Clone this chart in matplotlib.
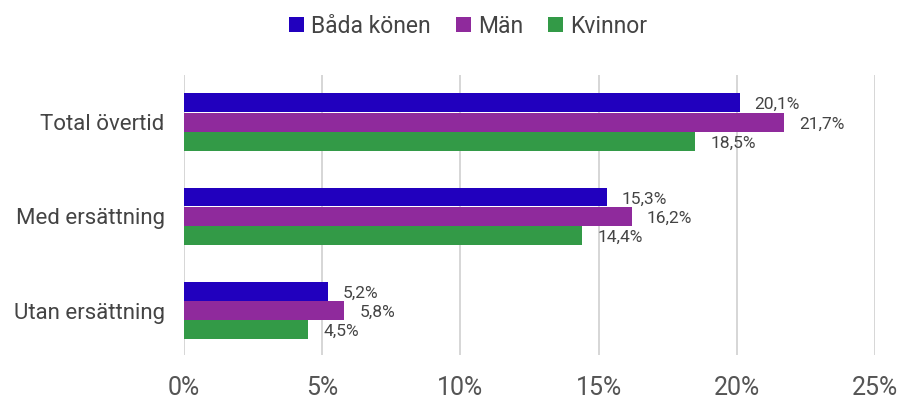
import matplotlib
matplotlib.use("Agg")
import matplotlib.pyplot as plt
import numpy as np

categories = ["Total övertid", "Med ersättning", "Utan ersättning"]
series_names = ["Båda könen", "Män", "Kvinnor"]
bada = [20.1, 15.3, 5.2]
man = [21.7, 16.2, 5.8]
kvinnor = [18.5, 14.4, 4.5]
xticks = [0, 5, 10, 15, 20, 25]
xticklabels = ["0%", "5%", "10%", "15%", "20%", "25%"]

colors = ["#2100BE", "#8F2A9C", "#339A47"]
plt.rcParams['font.family'] = ['Roboto', 'DejaVu Sans']

fig = plt.figure(figsize=(9.02, 4.01), dpi=100)
ax = fig.add_axes([0.204, 0.115, 0.766, 0.698])

y = np.arange(len(categories))
h = 0.2
offsets = [-0.205, 0.0, 0.205]
for vals, off, col, name in zip([bada, man, kvinnor], offsets, colors, series_names):
    bars = ax.barh(y + off, vals, height=h, color=col, label=name, zorder=3)
    for b, v in zip(bars, vals):
        ax.text(v + 0.55, b.get_y() + b.get_height() / 2 + 0.02,
                f"{v:.1f}%".replace(".", ","), va="center", ha="left",
                fontsize=12.5, color="#444444", zorder=4)

ax.set_xlim(0, 25)
ax.set_ylim(2.47, -0.5)
ax.set_yticks(y)
ax.set_yticklabels(categories, fontsize=16, color="#444444")
ax.set_xticks(xticks)
ax.set_xticklabels(xticklabels, fontsize=18, color="#555555")
ax.tick_params(axis="y", length=0, pad=14)
ax.tick_params(axis="x", length=0, pad=15)
ax.grid(axis="x", color="#d0d0d0", linewidth=1.2, zorder=0)
for s in ax.spines.values():
    s.set_visible(False)

fig.legend(loc="upper center", bbox_to_anchor=(0.519, 1.015), ncol=3, frameon=False,
           fontsize=16.5, handlelength=0.65, handleheight=0.65, handletextpad=0.3,
           columnspacing=1.1, labelcolor="#444444")

fig.savefig("out.png", dpi=100)
